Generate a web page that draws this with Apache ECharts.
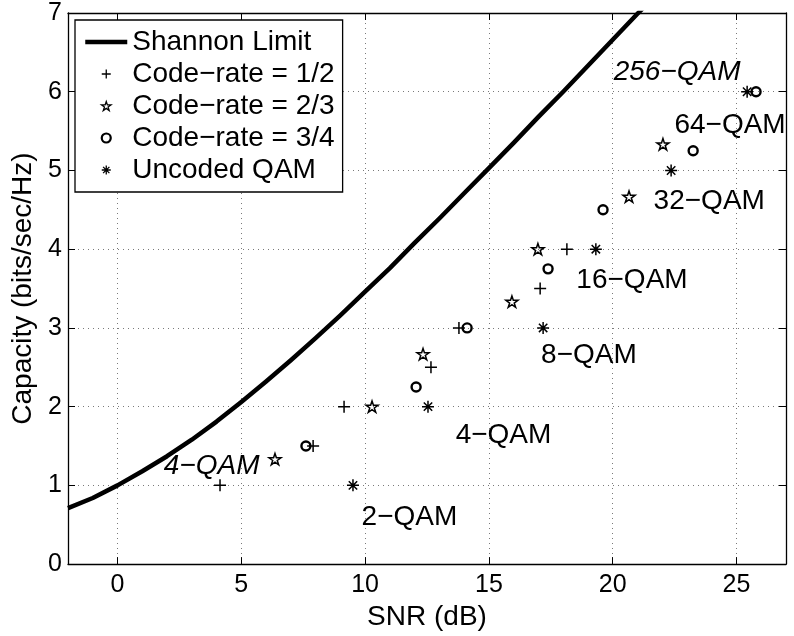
<!DOCTYPE html>
<html>
<head>
<meta charset="utf-8">
<script src="https://cdn.jsdelivr.net/npm/echarts@6/dist/echarts.min.js"></script>
<style>
html,body{margin:0;padding:0;background:#fff;}
#chart{width:794px;height:636px;}
</style>
</head>
<body>
<div id="chart"></div>
<script>
// ---- data ----
var shannonSNR = [-2, -1, 0, 1, 2, 3, 4, 5, 6, 7, 8, 9, 10, 11, 12, 13, 14, 15, 16, 17, 18, 19, 20, 21, 21.5];
var shannonCap = [0.71, 0.84, 1.00, 1.18, 1.37, 1.58, 1.81, 2.06, 2.32, 2.59, 2.87, 3.16, 3.46, 3.76, 4.08, 4.39, 4.71, 5.03, 5.35, 5.68, 6.00, 6.33, 6.66, 6.99, 7.15];

var rate12SNR = [4.14, 7.9, 9.15, 12.66, 13.79, 17.07, 18.15];
var rate12Cap = [1, 1.5, 2, 2.5, 3, 3.5, 4];

var rate23SNR = [6.36, 10.28, 12.34, 15.93, 16.98, 20.66, 22.03];
var rate23Cap = [1.333, 2, 2.667, 3.333, 4, 4.667, 5.333];

var rate34SNR = [7.61, 12.06, 14.12, 17.39, 19.61, 23.25, 25.79];
var rate34Cap = [1.5, 2.25, 3, 3.75, 4.5, 5.25, 6];

var uncodedSNR = [9.51, 12.54, 17.19, 19.32, 22.36, 25.43];
var uncodedCap = [1, 2, 3, 4, 5, 6];

var annText = ['256\u2212QAM', '64\u2212QAM', '32\u2212QAM', '16\u2212QAM', '8\u2212QAM', '4\u2212QAM', '2\u2212QAM', '4\u2212QAM'];
var annSNR = [22.6, 24.74, 23.9, 20.78, 19.04, 15.59, 11.79, 3.80];
var annCap = [6.25, 5.57, 4.61, 3.61, 2.65, 1.63, 0.59, 1.24];

var seriesNames = ['Shannon Limit', 'Code\u2212rate = 1/2', 'Code\u2212rate = 2/3', 'Code\u2212rate = 3/4', 'Uncoded QAM'];

// ---- build ----
function pairs(xs, ys) { return xs.map(function (x, i) { return [x, ys[i]]; }); }
var FONT = '"Liberation Sans", Arial, Helvetica, sans-serif';
var italicIdx = [0, 7];

var plusPath = 'path://M0,6L12,6M6,0L6,12';
var starPath = 'path://M10,0L12.245,6.91L19.51,6.91L13.63,11.18L15.88,18.09L10,13.82L4.12,18.09L6.37,11.18L0.49,6.91L7.755,6.91Z';
var astPath = 'path://M0,6L12,6M6,0L6,12M1.8,1.8L10.2,10.2M10.2,1.8L1.8,10.2';

var chart = echarts.init(document.getElementById('chart'), null, {renderer: 'canvas'});

var gridLine = {show: true, lineStyle: {color: '#7a7a7a', type: [1, 4], width: 1}};
var axisLineS = {show: true, onZero: false, lineStyle: {color: '#000', width: 1.3}};
var tickS = {show: true, inside: true, length: 7, lineStyle: {color: '#000', width: 1}};
function legIcon(w) { return {color: 'transparent', borderColor: '#000', borderWidth: w, opacity: 1}; }

var option = {
  backgroundColor: '#fff',
  animation: false,
  textStyle: {fontFamily: FONT},
  grid: {left: 68, right: 8, top: 13, bottom: 70, containLabel: false},
  legend: {
    orient: 'vertical', left: 75, top: 20,
    padding: [8, 8, 8, 8], itemGap: 4,
    itemWidth: 42, itemHeight: 9,
    backgroundColor: '#fff', borderColor: '#000', borderWidth: 1.3,
    textStyle: {fontSize: 28, fontFamily: FONT, color: '#000'},
    data: [
      {name: seriesNames[0], itemStyle: {opacity: 0}, lineStyle: {width: 4.5, color: '#000'}},
      {name: seriesNames[1], itemStyle: legIcon(1.3)},
      {name: seriesNames[2], itemStyle: legIcon(1.3)},
      {name: seriesNames[3], itemStyle: legIcon(2.2)},
      {name: seriesNames[4], itemStyle: legIcon(1.3)}
    ],
    selectedMode: false
  },
  xAxis: [{
    type: 'value', min: -2, max: 27, splitNumber: 5,
    name: 'SNR (dB)', nameLocation: 'middle', nameGap: 33,
    nameTextStyle: {fontSize: 28, color: '#000', fontFamily: FONT},
    axisLine: axisLineS, axisTick: tickS,
    axisLabel: {fontSize: 25, color: '#000', margin: 9, showMinLabel: false, showMaxLabel: false, fontFamily: FONT},
    splitLine: gridLine
  }, {
    type: 'value', min: -2, max: 27, splitNumber: 5, position: 'top',
    axisLine: axisLineS, axisTick: tickS,
    axisLabel: {show: false}, splitLine: {show: false}
  }],
  yAxis: [{
    type: 'value', min: 0, max: 7, interval: 1,
    name: 'Capacity (bits/sec/Hz)', nameLocation: 'middle', nameGap: 27,
    nameTextStyle: {fontSize: 28, color: '#000', fontFamily: FONT},
    axisLine: axisLineS, axisTick: tickS,
    axisLabel: {fontSize: 25, color: '#000', margin: 6, fontFamily: FONT},
    splitLine: gridLine
  }, {
    type: 'value', min: 0, max: 7, interval: 1, position: 'right',
    axisLine: axisLineS, axisTick: tickS,
    axisLabel: {show: false}, splitLine: {show: false}
  }],
  series: [{
    name: seriesNames[0], type: 'line', data: pairs(shannonSNR, shannonCap),
    symbol: 'none', smooth: false, clip: true,
    lineStyle: {color: '#000', width: 4.5, join: 'round'}, itemStyle: {color: '#000'}
  }, {
    name: seriesNames[1], type: 'scatter', data: pairs(rate12SNR, rate12Cap),
    symbol: plusPath, symbolSize: 12, symbolKeepAspect: true,
    itemStyle: {color: 'none', borderColor: '#000', borderWidth: 1.5, opacity: 1}
  }, {
    name: seriesNames[2], type: 'scatter', data: pairs(rate23SNR, rate23Cap),
    symbol: starPath, symbolSize: 12, symbolKeepAspect: true,
    itemStyle: {color: 'none', borderColor: '#000', borderWidth: 1.5, opacity: 1}
  }, {
    name: seriesNames[3], type: 'scatter', data: pairs(rate34SNR, rate34Cap),
    symbol: 'circle', symbolSize: 9,
    itemStyle: {color: 'none', borderColor: '#000', borderWidth: 2.4, opacity: 1}
  }, {
    name: seriesNames[4], type: 'scatter', data: pairs(uncodedSNR, uncodedCap),
    symbol: astPath, symbolSize: 12, symbolKeepAspect: true,
    itemStyle: {color: 'none', borderColor: '#000', borderWidth: 1.5, opacity: 1}
  }, {
    name: 'annotations', type: 'scatter', silent: true,
    symbolSize: 1, itemStyle: {color: 'transparent', opacity: 1},
    data: annText.map(function (t, i) {
      return {
        value: [annSNR[i], annCap[i]],
        label: {
          show: true, position: 'inside', formatter: t,
          fontSize: 28, color: '#000', fontFamily: FONT,
          fontStyle: italicIdx.indexOf(i) >= 0 ? 'italic' : 'normal'
        }
      };
    })
  }]
};
chart.setOption(option);
</script>
</body>
</html>
